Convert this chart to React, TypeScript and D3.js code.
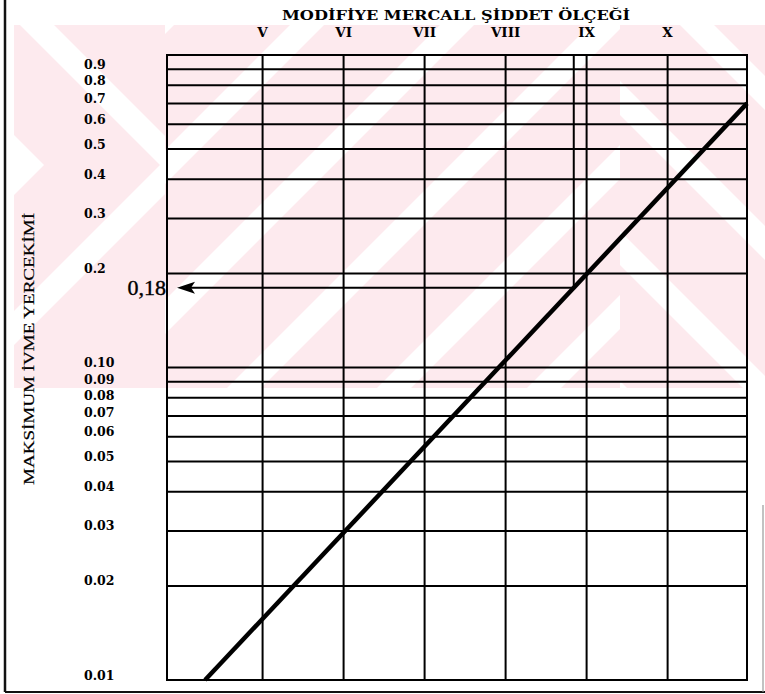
import React from "react";
import * as d3 from "d3";

// ---- data ----
const tickValues = [0.9, 0.8, 0.7, 0.6, 0.5, 0.4, 0.3, 0.2, 0.1, 0.09, 0.08, 0.07, 0.06, 0.05, 0.04, 0.03, 0.02, 0.01];
const tickLabels = ["0.9", "0.8", "0.7", "0.6", "0.5", "0.4", "0.3", "0.2", "0.10", "0.09", "0.08", "0.07", "0.06", "0.05", "0.04", "0.03", "0.02", "0.01"];
const gridValues = [0.02, 0.03, 0.04, 0.05, 0.06, 0.07, 0.08, 0.09, 0.1, 0.2, 0.3, 0.4, 0.5, 0.6, 0.7, 0.8, 0.9];
const intensities = [5, 6, 7, 8, 9, 10];
const romanLabels = ["V", "VI", "VII", "VIII", "IX", "X"];
const lineIntensity = [4.29, 10.98];
const lineAccel = [0.01, 0.7];
const markerValue = 0.18;
const markerLabel = "0,18";
const title = "MODİFİYE MERCALL ŞİDDET ÖLÇEĞİ";
const yTitle = "MAKSİMUM İVME YERCEKİMİ";

const W = 765;
const H = 694;

export default function App() {
  const x = d3.scaleLinear().domain([3.82, 10.98]).range([167, 747]);
  const y = d3.scaleLog().domain([0.01, 1]).range([680, 55]);
  const [x0, x1] = x.range();
  const [yb, yt] = y.range();

  const lineData = lineIntensity.map((v, i) => [v, lineAccel[i]] as [number, number]);
  const lineGen = d3.line<[number, number]>().x((d) => x(d[0])).y((d) => y(d[1]));

  // intersection of marker value with diagonal (log-linear)
  const t = (Math.log10(markerValue) - Math.log10(lineAccel[0])) / (Math.log10(lineAccel[1]) - Math.log10(lineAccel[0]));
  const markerI = lineIntensity[0] + t * (lineIntensity[1] - lineIntensity[0]);
  const mx = x(markerI);
  const my = y(markerValue);
  const tipX = x0 + 10;

  // tick label positions: scale position, nudged apart to keep a minimum gap (top to bottom)
  const minGap = 16.5;
  const labelY: number[] = tickValues.map((v) => y(v) - 5);
  for (let i = 1; i < labelY.length; i++) {
    if (labelY[i] - labelY[i - 1] < minGap) labelY[i] = labelY[i - 1] + minGap;
  }

  // watermark stripes (decoration)
  const wmTop = 25, wmBot = 388, wmH = wmBot - wmTop;
  const sw = 34;
  const period = 150;
  const slashStripes: string[] = [];
  for (let c = 140; c < 1100; c += period) {
    slashStripes.push(`${c},${wmTop} ${c + sw},${wmTop} ${c + sw - wmH},${wmBot} ${c - wmH},${wmBot}`);
  }
  const backStripes: string[] = [];
  for (let c = 230; c < 1000; c += period) {
    backStripes.push(`${c},${wmTop} ${c + sw},${wmTop} ${c + sw + wmH},${wmBot} ${c + wmH},${wmBot}`);
  }
  const apexY = 165;
  const chevrons: string[] = [];
  for (let ax = 160; ax > -200; ax -= period) {
    const up = apexY - wmTop;
    const dn = wmBot - apexY;
    chevrons.push(
      `${ax - up},${wmTop} ${ax - up + sw},${wmTop} ${ax + sw},${apexY} ${ax + sw - dn},${wmBot} ${ax - dn},${wmBot} ${ax},${apexY}`
    );
  }

  const serifBold = "'DejaVu Serif', 'Liberation Serif', serif";
  const serif = "'Liberation Serif', 'DejaVu Serif', serif";

  return (
    <svg width={W} height={H} style={{ position: "absolute", left: 0, top: 0, background: "#fff" }}>
      <defs>
        <clipPath id="wm-mid"><rect x={165} y={wmTop} width={455} height={wmH} /></clipPath>
        <clipPath id="wm-right"><rect x={620} y={wmTop} width={W - 620} height={wmH} /></clipPath>
        <clipPath id="wm-left"><rect x={14} y={wmTop} width={151} height={wmH} /></clipPath>
      </defs>
      <rect x={0} y={0} width={W} height={H} fill="#fff" />
      {/* watermark */}
      <rect x={14} y={wmTop} width={W - 14} height={wmH} fill="#fdeaee" />
      <g clipPath="url(#wm-mid)" fill="#fff">
        {slashStripes.map((p, i) => <polygon key={i} points={p} />)}
      </g>
      <g clipPath="url(#wm-right)" fill="#fff">
        {backStripes.map((p, i) => <polygon key={i} points={p} />)}
      </g>
      <g clipPath="url(#wm-left)" fill="#fff">
        {chevrons.map((p, i) => <polygon key={i} points={p} />)}
      </g>

      {/* page border */}
      <line x1={5} y1={0} x2={5} y2={692} stroke="#111" strokeWidth={2.5} />
      <line x1={5} y1={692} x2={W} y2={692} stroke="#111" strokeWidth={2} />
      <line x1={763} y1={505} x2={763} y2={692} stroke="#999" strokeWidth={1.2} />

      {/* horizontal grid */}
      {gridValues.map((v) => (
        <line key={v} x1={x0} x2={x1} y1={y(v)} y2={y(v)} stroke="#000" strokeWidth={2} />
      ))}
      {/* vertical grid */}
      {intensities.map((v) => (
        <line key={v} x1={x(v)} x2={x(v)} y1={yt} y2={yb} stroke="#000" strokeWidth={2} />
      ))}
      {/* construction vertical at marker */}
      <line x1={mx} x2={mx} y1={yt} y2={my} stroke="#000" strokeWidth={2} />
      {/* frame */}
      <rect x={x0} y={yt} width={x1 - x0} height={yb - yt} fill="none" stroke="#000" strokeWidth={2} />

      {/* marker arrow */}
      <line x1={tipX + 14} x2={mx} y1={my} y2={my} stroke="#000" strokeWidth={2} />
      <polygon points={`${tipX},${my} ${tipX + 18},${my - 6} ${tipX + 14},${my} ${tipX + 18},${my + 6}`} fill="#000" />
      <text x={x0 - 1} y={my} dy="0.35em" textAnchor="end" fontFamily={serif} fontSize={22} stroke="#000" strokeWidth={0.4} fill="#000">{markerLabel}</text>

      {/* diagonal */}
      <path d={lineGen(lineData) || ""} fill="none" stroke="#000" strokeWidth={4.5} strokeLinecap="butt" />

      {/* y tick labels */}
      {tickValues.map((v, i) => (
        <text key={v} x={84} y={labelY[i]} dy="0.36em" fontFamily={serifBold} fontWeight="bold" fontSize={12.5} fill="#000">{tickLabels[i]}</text>
      ))}

      {/* x labels */}
      {intensities.map((v, i) => (
        <text key={v} x={x(v)} y={37} textAnchor="middle" fontFamily={serifBold} fontWeight="bold" fontSize={13.5} fill="#000">{romanLabels[i]}</text>
      ))}
      <text x={456} y={20} textAnchor="middle" fontFamily={serifBold} fontWeight="bold" fontSize={13} textLength={348} lengthAdjust="spacingAndGlyphs" fill="#000">{title}</text>

      {/* y title */}
      <text transform={`translate(34,${349}) rotate(-90)`} textAnchor="middle" fontFamily={serif} fontSize={14.5} textLength={272} lengthAdjust="spacingAndGlyphs" stroke="#000" strokeWidth={0.2} fill="#000">{yTitle}</text>
    </svg>
  );
}
